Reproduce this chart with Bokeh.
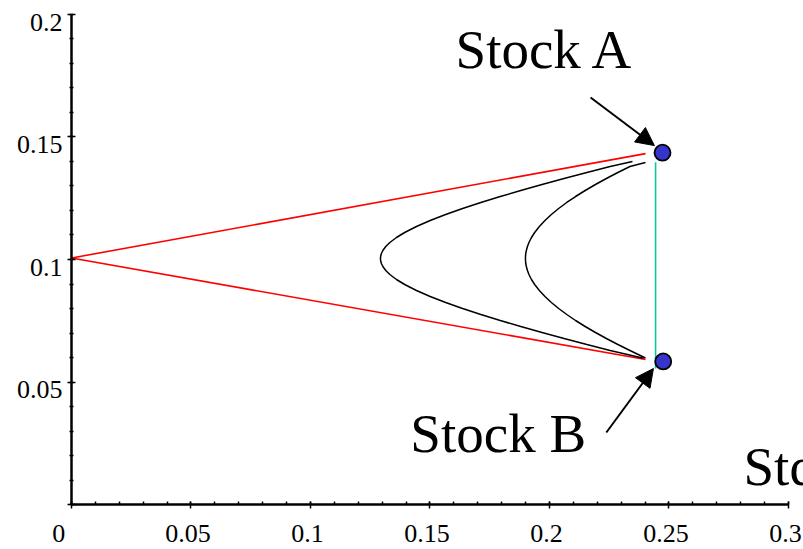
from bokeh.plotting import figure
from bokeh.models import (Range1d, SingleIntervalTicker, Arrow, NormalHead, LinearAxis,
                          CustomJSTickFormatter)
from bokeh.core.properties import value
from bokeh.embed import file_html
from bokeh.resources import INLINE

# ---- data (x = standard deviation, y = expected return) ----
# perfectly negatively correlated frontier (red)
red_sd = [0.2402, 0.0, 0.2402]
red_ret = [0.1432, 0.1006, 0.0592]

# inner black frontier
curve1_sd = [0.23473, 0.22540, 0.21565, 0.20611, 0.19690, 0.18799, 0.17941, 0.17130,
             0.16364, 0.15657, 0.15008, 0.14435, 0.13941, 0.13598, 0.13322, 0.13151,
             0.13029, 0.12967, 0.12935, 0.12929,
             0.12935, 0.12967, 0.13029, 0.13151, 0.13322, 0.13598, 0.13941, 0.14435,
             0.15008, 0.15657, 0.16364, 0.17130, 0.17941, 0.18799, 0.19690, 0.20611,
             0.21565, 0.22540, 0.23933]
curve1_ret = [0.14000, 0.13796, 0.13551, 0.13306, 0.13061, 0.12816, 0.12571, 0.12327,
              0.12082, 0.11837, 0.11592, 0.11347, 0.11102, 0.10898, 0.10694, 0.10531,
              0.10367, 0.10245, 0.10122, 0.10041,
              0.09959, 0.09837, 0.09714, 0.09551, 0.09388, 0.09184, 0.08980, 0.08735,
              0.08490, 0.08245, 0.08000, 0.07755, 0.07510, 0.07265, 0.07020, 0.06776,
              0.06531, 0.06286, 0.05971]

# outer black frontier
curve2_sd = [0.24017, 0.23368, 0.22862, 0.22381, 0.21925, 0.21494, 0.21092, 0.20724,
             0.20385, 0.20079, 0.19812, 0.19577, 0.19381, 0.19247, 0.19142, 0.19079,
             0.19033, 0.19008, 0.18998, 0.18996,
             0.18998, 0.19008, 0.19033, 0.19079, 0.19142, 0.19247, 0.19381, 0.19577,
             0.19812, 0.20079, 0.20385, 0.20724, 0.21092, 0.21494, 0.21925, 0.22381,
             0.22862, 0.23368, 0.24017]
curve2_ret = [0.13959, 0.13796, 0.13551, 0.13306, 0.13061, 0.12816, 0.12571, 0.12327,
              0.12082, 0.11837, 0.11592, 0.11347, 0.11102, 0.10898, 0.10694, 0.10531,
              0.10367, 0.10245, 0.10122, 0.10041,
              0.09959, 0.09837, 0.09714, 0.09551, 0.09388, 0.09184, 0.08980, 0.08735,
              0.08490, 0.08245, 0.08000, 0.07755, 0.07510, 0.07265, 0.07020, 0.06776,
              0.06531, 0.06286, 0.05980]

# perfectly positively correlated frontier (green)
green_sd = [0.2444, 0.2444]
green_ret = [0.1397, 0.0555]

# the two stocks
stock_names = ["Stock A", "Stock B"]
stock_sd = [0.2473, 0.2476]
stock_ret = [0.1436, 0.0584]

x_ticks_interval = 0.05
y_ticks_interval = 0.05

FONT = "Liberation Serif"

X0, X1 = -0.029707, 0.3063
Y0, Y1 = -0.018367, 0.205714

p = figure(width=803, height=549, output_backend="svg", toolbar_location=None,
           x_range=Range1d(X0, X1), y_range=Range1d(Y0, Y1),
           min_border_left=0, min_border_right=0, min_border_top=0,
           min_border_bottom=0)
p.outline_line_color = None
p.background_fill_color = "white"
p.border_fill_color = "white"
p.xgrid.visible = False
p.ygrid.visible = False

# ranges used only to place the tick labels the way the reference does
# (x labels a little left of their ticks, y labels a little below theirs)
p.extra_x_ranges = {"xlab": Range1d(X0 + 0.001255, X1 + 0.001255)}
p.extra_y_ranges = {"ylab": Range1d(Y0 + 0.003265, Y1 + 0.003265)}

blank = CustomJSTickFormatter(code="return '';")

# axes lines and ticks
for ax, interval in ((p.xaxis[0], x_ticks_interval), (p.yaxis[0], y_ticks_interval)):
    ax.ticker = SingleIntervalTicker(interval=interval, num_minor_ticks=5)
    ax.fixed_location = 0
    ax.axis_line_width = 2.5
    ax.axis_line_color = "black"
    ax.major_tick_line_width = 1.5
    ax.minor_tick_line_width = 1.5
    ax.major_tick_line_color = "black"
    ax.minor_tick_line_color = "black"
    ax.formatter = blank

p.xaxis.bounds = (0, 0.3001)
p.xaxis.major_tick_in = 3
p.xaxis.major_tick_out = 4
p.xaxis.minor_tick_in = 3
p.xaxis.minor_tick_out = 0

p.yaxis.bounds = (0, 0.2001)
p.yaxis.major_tick_in = 4
p.yaxis.major_tick_out = 4
p.yaxis.minor_tick_in = 2
p.yaxis.minor_tick_out = 2

# tick label axes
xlab = LinearAxis(x_range_name="xlab", fixed_location=0,
                  ticker=SingleIntervalTicker(interval=x_ticks_interval),
                  bounds=(0, 0.3001))
ylab = LinearAxis(y_range_name="ylab", fixed_location=0,
                  ticker=SingleIntervalTicker(interval=y_ticks_interval),
                  bounds=(0, 0.2001))
for ax in (xlab, ylab):
    ax.axis_line_color = None
    ax.major_tick_line_color = None
    ax.minor_tick_line_color = None
    ax.major_tick_in = 0
    ax.major_tick_out = 4
    ax.major_label_text_font = FONT
    ax.major_label_text_font_size = "26px"
    ax.major_label_text_color = "black"
xlab.major_label_standoff = 10
xlab.major_label_overrides = {0: "0\u2007\u2008"}
ylab.major_label_standoff = 5
ylab.major_label_overrides = {0: ""}
p.add_layout(xlab, "below")
p.add_layout(ylab, "left")

# lines
p.line(red_sd, red_ret, line_color="#ff0000", line_width=1.6)
p.line(curve1_sd, curve1_ret, line_color="black", line_width=1.5)
p.line(curve2_sd, curve2_ret, line_color="black", line_width=1.5)
p.line(green_sd, green_ret, line_color="#10c4a0", line_width=1.6)

# stocks
p.scatter(stock_sd, stock_ret, size=16, fill_color="#3535cc", line_color="black",
          line_width=1.8)

# arrows
p.add_layout(Arrow(end=NormalHead(size=18, fill_color="black", line_color="black"),
                   x_start=0.2172, y_start=0.1661, x_end=0.2439, y_end=0.1465,
                   line_width=2, line_color="black"))
p.add_layout(Arrow(end=NormalHead(size=18, fill_color="black", line_color="black"),
                   x_start=0.2238, y_start=0.0294, x_end=0.2435, y_end=0.0555,
                   line_width=2, line_color="black"))

# texts
p.text(x=[0.1607, 0.1418], y=[0.1858, 0.0290], text=stock_names,
       text_font=value(FONT), text_font_size="55px", text_color="black",
       text_baseline="alphabetic", text_align="left")
p.text(x=[0.2812], y=[0.0157], text=["Std Dev"],
       text_font=value(FONT), text_font_size="55px", text_color="black",
       text_baseline="alphabetic", text_align="left")

open("out.html", "w").write(file_html(p, INLINE))
